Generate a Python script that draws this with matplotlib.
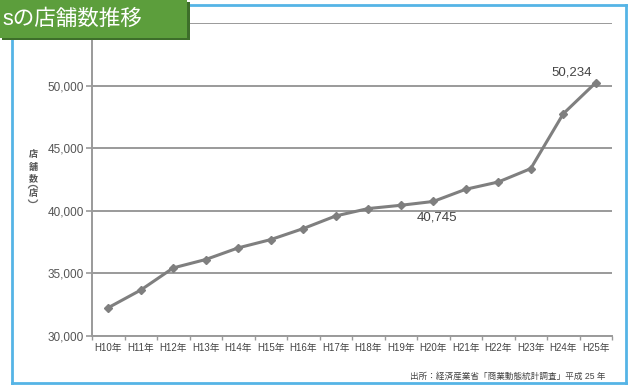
import matplotlib
matplotlib.use('Agg')
import matplotlib.pyplot as plt
from matplotlib.patches import Rectangle, Arc
from matplotlib.lines import Line2D

plt.rcParams['font.family'] = ['Liberation Sans', 'Noto Sans CJK JP', 'DejaVu Sans']

years = ['H10年', 'H11年', 'H12年', 'H13年', 'H14年', 'H15年', 'H16年', 'H17年',
         'H18年', 'H19年', 'H20年', 'H21年', 'H22年', 'H23年', 'H24年', 'H25年']
stores = [32260, 33670, 35440, 36110, 37040, 37700, 38580, 39590,
          40180, 40440, 40745, 41720, 42300, 43370, 47750, 50234]
yticks = [30000, 35000, 40000, 45000, 50000, 55000]
ylabels = ['30,000', '35,000', '40,000', '45,000', '50,000', '']

fig = plt.figure(figsize=(6.3, 3.85), dpi=100)
ax = fig.add_axes([92/630, 1-336/385, 520/630, 313/385])

x = list(range(len(years)))
ax.plot(x, stores, color='#7f7f7f', lw=2.2, marker='D', ms=4.5, zorder=3)

ax.set_xlim(-0.5, len(years)-0.5)
ax.set_ylim(30000, 55000)
ax.set_yticks(yticks)
ax.set_yticklabels(ylabels)
ax.set_xticks(x)
ax.set_xticklabels(years)
ax.set_xticks([i-0.5 for i in range(len(years)+1)], minor=True)
ax.tick_params(axis='x', which='major', length=0, labelsize=7, colors='#444444', pad=5)
ax.tick_params(axis='x', which='minor', length=3, color='#999999', width=1)
ax.tick_params(axis='y', length=4, color='#999999', width=1.2, labelsize=8.5, labelcolor='#555555', pad=2)

ax.yaxis.grid(True, color='#9a9a9a', lw=1.4)
ax.set_axisbelow(True)
for s in ['top', 'right']:
    ax.spines[s].set_visible(False)
for s in ['left', 'bottom']:
    ax.spines[s].set_color('#9a9a9a')
    ax.spines[s].set_linewidth(1.4)

ax.annotate('50,234', (x[-1], stores[-1]), xytext=(-3, 3), textcoords='offset points',
            ha='right', va='bottom', fontsize=9.5, color='#444444')
ax.annotate('40,745', (x[10], stores[10]), xytext=(3, -7), textcoords='offset points',
            ha='center', va='top', fontsize=9.5, color='#444444')

# vertical y label 店舗数（店）
cjk = ['Noto Sans CJK JP', 'DejaVu Sans']
for ch, yy in zip(['店', '舗', '数', '店'], [154, 167, 179, 194]):
    fig.text(33/630, 1-yy/385, ch, fontsize=6.5, color='#555555', ha='center', va='center',
             fontweight='bold', family=cjk)
fig.add_artist(Arc((33/630, 1-188.5/385), 9/630, 6/385, theta1=0, theta2=180,
                   transform=fig.transFigure, color='#666666', lw=0.9))
fig.add_artist(Arc((33/630, 1-199.5/385), 9/630, 6/385, theta1=180, theta2=360,
                   transform=fig.transFigure, color='#666666', lw=0.9))

fig.text(605/630, 1-376/385, '出所：経済産業省「商業動態統計調査」平成 25 年', fontsize=6.2,
         color='#444444', ha='right', va='center')

# blue frame
frame = '#55b4e6'
fig.add_artist(Line2D([188/630, 626/630], [1-5/385, 1-5/385], color=frame, lw=2, transform=fig.transFigure))
fig.add_artist(Line2D([12/630, 12/630], [1-38/385, 1-383/385], color=frame, lw=2, transform=fig.transFigure))
fig.add_artist(Line2D([12/630, 626/630], [1-383/385, 1-383/385], color=frame, lw=2, transform=fig.transFigure))
fig.add_artist(Line2D([626/630, 626/630], [1-5/385, 1-383/385], color=frame, lw=2, transform=fig.transFigure))

# title box
fig.add_artist(Rectangle((2/630, 1-40/385), 188/630, 38/385, transform=fig.transFigure,
                         facecolor='#3d6e2a', edgecolor='none', zorder=5))
fig.add_artist(Rectangle((0, 1-38/385), 187/630, 38/385, transform=fig.transFigure,
                         facecolor='#5c9e3c', edgecolor='none', zorder=6))
fig.text(2/630, 1-19/385, 'sの店舗数推移', fontsize=15.5, color='white',
         ha='left', va='center', zorder=7)

fig.savefig('out.png', dpi=100)
